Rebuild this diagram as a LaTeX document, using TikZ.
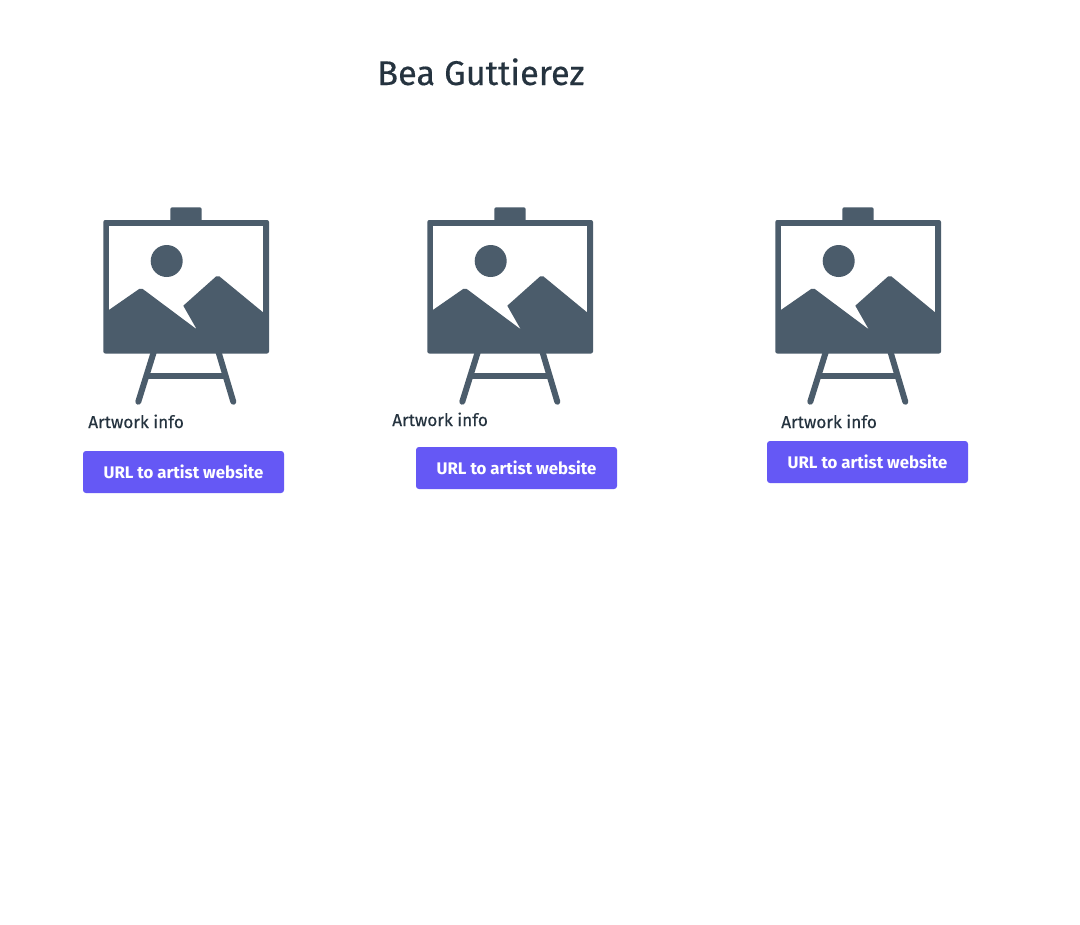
\documentclass[tikz,border=0pt]{standalone}
\usepackage{fontspec}
\setmainfont{Fira Sans}
\definecolor{easelgray}{HTML}{4B5C6B}
\definecolor{inkdark}{HTML}{25333F}
\definecolor{btnviolet}{HTML}{6558F5}
\tikzset{
  easel/.pic={
    \fill[easelgray,rounded corners=1.5] (170.3,207.3) rectangle (201.7,230);
    \fill[easelgray,rounded corners=1.5] (103.3,220) rectangle (269,353.5);
    \fill[white] (109.3,226.3) rectangle (263,330);
    \fill[easelgray] (166.7,261) circle (16);
    \fill[easelgray] (107,311.3) -- (109.3,309.7) [rounded corners=1.5] -- (141,287.7) [sharp corners] -- (196.7,329.3) -- (183.3,305.7) [rounded corners=1.5] -- (217.7,275) [sharp corners] -- (263,312.3) -- (265,314) -- (265,340) -- (107,340) -- cycle;
    \draw[easelgray,line width=4.5pt,line cap=round] (153.8,352) -- (138.3,401.7);
    \draw[easelgray,line width=4.5pt,line cap=round] (218.5,352) -- (233.3,401.7);
    \draw[easelgray,line width=4.2pt] (148,376) -- (224,376);
  },
  info/.style={anchor=base west,inner sep=0pt,text=inkdark,font=\fontsize{12.9}{15}\selectfont\addfontfeatures{FakeBold=0.3}},
  urlbtn/.style={fill=btnviolet,text=white,rounded corners=2.2pt,inner sep=0pt,minimum width=150.75pt,minimum height=31.5pt,font=\fontsize{12.6}{15}\selectfont\bfseries},
}
\begin{document}
\begin{tikzpicture}[x=0.75pt,y=-0.75pt]
\useasboundingbox[fill=white] (0,0) rectangle (1080,924);
\node[anchor=base west,inner sep=0pt,text=inkdark,font=\fontsize{25.7}{30}\selectfont\addfontfeatures{FakeBold=0.4}] (title) at (377,85) {Bea Guttierez};
\pic at (0,0) {easel};
\pic at (324,0) {easel};
\pic at (672,0) {easel};
\node[info] (info1) at (88,428) {Artwork info};
\node[info] (info2) at (392,426) {Artwork info};
\node[info] (info3) at (781,428) {Artwork info};
\node[urlbtn] (url1) at (183.5,472) {URL to artist website};
\node[urlbtn] (url2) at (516.5,468) {URL to artist website};
\node[urlbtn] (url3) at (867.5,462) {URL to artist website};
\end{tikzpicture}
\end{document}
